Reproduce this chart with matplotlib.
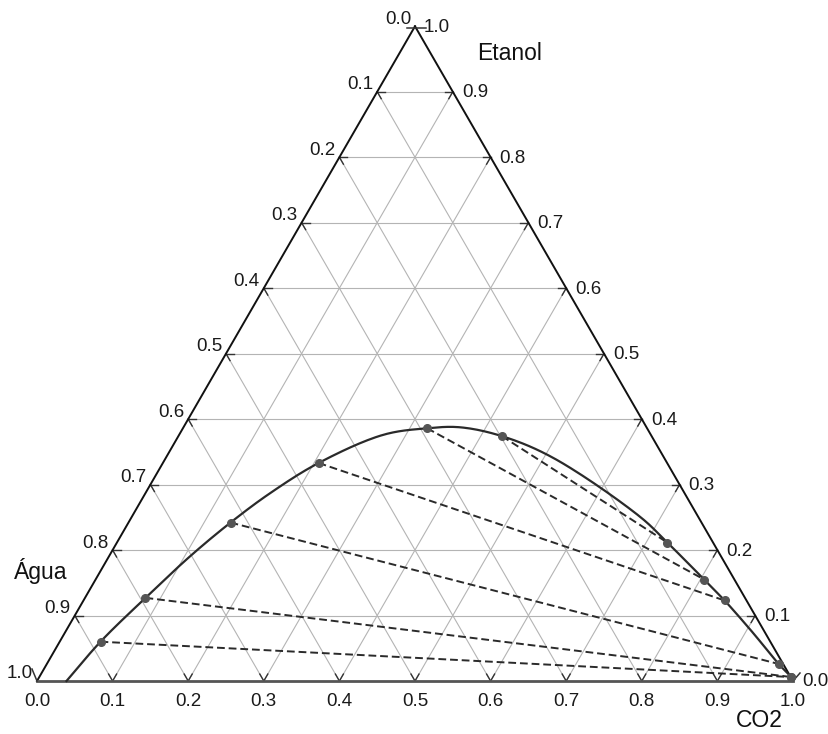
import numpy as np
import matplotlib
matplotlib.use('Agg')
import matplotlib.pyplot as plt

plt.rcParams['font.family'] = ['Liberation Sans', 'DejaVu Sans']

# ---------------- data ----------------
tick_values = [0.0, 0.1, 0.2, 0.3, 0.4, 0.5, 0.6, 0.7, 0.8, 0.9, 1.0]
tick_labels = ['0.0', '0.1', '0.2', '0.3', '0.4', '0.5', '0.6', '0.7', '0.8', '0.9', '1.0']
axis_names = ['CO2', 'Etanol', 'Água']

# binodal curve, mass fractions (CO2, Etanol); Água = 1 - CO2 - Etanol
curve_co2 = [0.039, 0.054, 0.080, 0.107, 0.135, 0.165, 0.206, 0.270, 0.323, 0.366,
             0.428, 0.512, 0.672, 0.728, 0.805, 0.848, 0.911, 0.968, 0.995]
curve_etanol = [0.000, 0.060, 0.127, 0.190, 0.242, 0.287, 0.333, 0.376, 0.386, 0.3875,
                0.374, 0.341, 0.251, 0.2115, 0.155, 0.123, 0.073, 0.026, 0.006]

# tie lines: water-rich end and CO2-rich end
tie_w_co2 = [0.054, 0.080, 0.135, 0.206, 0.323, 0.428]
tie_w_etanol = [0.060, 0.127, 0.242, 0.333, 0.386, 0.374]
tie_c_co2 = [0.995, 0.995, 0.968, 0.848, 0.805, 0.728]
tie_c_etanol = [0.006, 0.006, 0.026, 0.123, 0.155, 0.2115]

# ---------------- helpers ----------------
S3 = np.sqrt(3) / 2
PX = 1.0 / 756.0   # one pixel in data units


def cart(c, e):
    c = np.asarray(c, float)
    e = np.asarray(e, float)
    return c + e / 2.0, e * S3


def catmull_rom(x, y, n=24, alpha=0.5):
    """Centripetal Catmull-Rom through the given points (drawing only)."""
    P = np.column_stack([x, y])
    P = np.vstack([P[0] * 2 - P[1], P, P[-1] * 2 - P[-2]])
    out = []
    for i in range(1, len(P) - 2):
        p0, p1, p2, p3 = P[i - 1], P[i], P[i + 1], P[i + 2]
        t0 = 0.0
        t1 = t0 + np.linalg.norm(p1 - p0) ** alpha
        t2 = t1 + np.linalg.norm(p2 - p1) ** alpha
        t3 = t2 + np.linalg.norm(p3 - p2) ** alpha
        t = np.linspace(t1, t2, n, endpoint=False)[:, None]
        a1 = (t1 - t) / (t1 - t0) * p0 + (t - t0) / (t1 - t0) * p1
        a2 = (t2 - t) / (t2 - t1) * p1 + (t - t1) / (t2 - t1) * p2
        a3 = (t3 - t) / (t3 - t2) * p2 + (t - t2) / (t3 - t2) * p3
        b1 = (t2 - t) / (t2 - t0) * a1 + (t - t0) / (t2 - t0) * a2
        b2 = (t3 - t) / (t3 - t1) * a2 + (t - t1) / (t3 - t1) * a3
        c = (t2 - t) / (t2 - t1) * b1 + (t - t1) / (t2 - t1) * b2
        out.append(c)
    out.append(P[-2][None, :])
    out = np.vstack(out)
    return out[:, 0], out[:, 1]


fig = plt.figure(figsize=(8.29, 7.34), dpi=100)
ax = fig.add_axes([0, 0, 1, 1])
ax.set_xlim(-37 * PX, (829 - 37) * PX)
ax.set_ylim(-53 * PX, (734 - 53) * PX)
ax.axis('off')

grid_col = '#b4b4b4'
tick_col = '#333333'
tl = 8 * PX

# grid lines with dark ends
for v in tick_values[1:-1]:
    lines = [
        ((0.0, v), (1 - v, v)),          # Etanol = v
        ((v, 0.0), (v, 1 - v)),          # CO2 = v
        ((1 - v, 0.0), (0.0, 1 - v)),    # Água = v
    ]
    for (c0, e0), (c1, e1) in lines:
        x0, y0 = cart(c0, e0)
        x1, y1 = cart(c1, e1)
        ax.plot([x0, x1], [y0, y1], color=grid_col, lw=0.8, zorder=1)
        d = np.array([x1 - x0, y1 - y0])
        d = d / np.hypot(*d)
        ax.plot([x0, x0 + d[0] * tl], [y0, y0 + d[1] * tl], color=tick_col, lw=1.0, zorder=2)
        ax.plot([x1, x1 - d[0] * tl], [y1, y1 - d[1] * tl], color=tick_col, lw=1.0, zorder=2)

# triangle edges
xa, ya = cart(0, 1)
ax.plot([0, xa], [0, ya], color='#111111', lw=1.4, zorder=3)
ax.plot([1, xa], [0, ya], color='#111111', lw=1.4, zorder=3)
ax.plot([0, 1], [0, 0], color='#555555', lw=2.0, zorder=3)

# corner ticks
ax.plot([xa - 8 * PX, xa + 11 * PX], [ya - 2 * PX, ya - 2 * PX], color=tick_col, lw=1.1, zorder=3)
ax.plot([0, -5 * PX], [0, 12 * PX], color=tick_col, lw=1.1, zorder=3)
ax.plot([1, 1 + 7 * PX], [0, 8 * PX], color=tick_col, lw=1.1, zorder=3)

# tick labels
fs = 13.5
tc = '#1a1a1a'
for v, lab in zip(tick_values, tick_labels):
    # bottom: CO2
    x, y = cart(v, 0)
    ax.text(x, y - 20 * PX, lab, ha='center', va='center', fontsize=fs, color=tc)
    # right: Etanol
    x, y = cart(1 - v, v)
    ax.text(x + 9 * PX, y - 1 * PX, lab, ha='left', va='center', fontsize=fs, color=tc)
    # left: Água
    x, y = cart(0, 1 - v)
    ax.text(x - 4 * PX, y + 7 * PX, lab, ha='right', va='center', fontsize=fs, color=tc)

# axis names
afs = 16.5
ax.text((510 - 37) * PX, (681 - 60) * PX, axis_names[1], ha='center', va='baseline', fontsize=afs, color='#111111')
ax.text((759 - 37) * PX, (681 - 732) * PX, axis_names[0], ha='center', va='bottom', fontsize=afs, color='#111111')
ax.text((41 - 37) * PX, (681 - 579) * PX, axis_names[2], ha='center', va='baseline', fontsize=afs, color='#111111')

# binodal curve
cx, cy = cart(curve_co2, curve_etanol)
sx, sy = catmull_rom(cx, cy)
ax.plot(sx, sy, color='#2a2a2a', lw=1.6, zorder=5)

# tie lines
for wc, we, cc, ce in zip(tie_w_co2, tie_w_etanol, tie_c_co2, tie_c_etanol):
    x0, y0 = cart(wc, we)
    x1, y1 = cart(cc, ce)
    ax.plot([x0, x1], [y0, y1], color='#2a2a2a', lw=1.4, dashes=(4, 2), zorder=4)
    ax.plot([x0, x1], [y0, y1], 'o', color='#555555', ms=5.5, zorder=6)

fig.savefig('out.png', dpi=100, facecolor='white')
